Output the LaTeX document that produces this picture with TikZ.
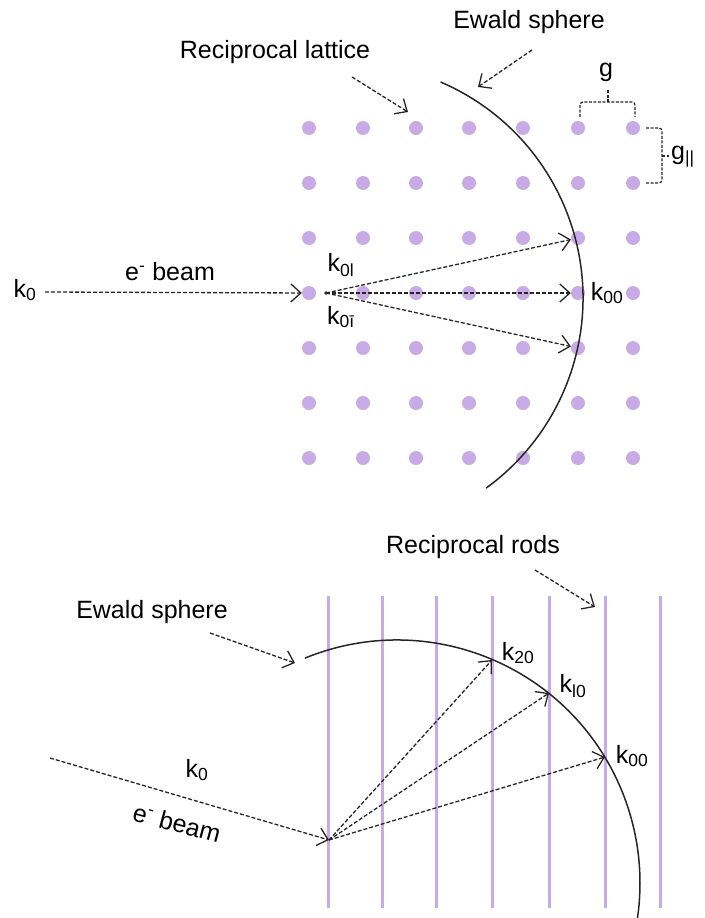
\documentclass[tikz,border=0pt]{standalone}
\usepackage{fontspec}
\setmainfont{Liberation Sans}
\usetikzlibrary{arrows.meta,positioning}
\definecolor{lattice}{RGB}{200,170,228}

\begin{document}
\begin{tikzpicture}[x=1pt,y=-1pt,>={Straight Barb[length=10pt,width=18pt]},
    spot/.style={circle,fill=lattice,minimum size=14pt,inner sep=0pt},
    ray/.style={draw=black!85,line width=1.3pt,dash pattern=on 4pt off 2pt,->},
    brk/.style={draw=black!85,line width=1.2pt,dash pattern=on 3pt off 1.5pt,rounded corners=3pt},
    sph/.style={draw=black!85,line width=1.5pt},
    rod/.style={draw=lattice,line width=3pt},
    lbl/.style={font=\fontsize{25}{30}\selectfont,inner sep=0pt}]
  \useasboundingbox (0,0) rectangle (704,918);
  % TOP: reciprocal lattice cut by the Ewald sphere
  \foreach \i/\x in {1/309,2/363,3/416,4/469,5/523,6/578,7/633}
    \foreach \j in {1,...,7} \node[spot] (D\i\j) at (\x,73+55*\j) {};
  \draw[sph] (348,298) ++(-66.8:235) arc[start angle=-66.8,end angle=54,radius=235];
  \node[lbl] (RL) at (275,52) {Reciprocal lattice};
  \node[lbl] (ES1) at (529,22) {Ewald sphere};
  \coordinate (RLa) at (352,77); \coordinate (RLb) at (408,112);
  \coordinate (ESa) at (532,50); \coordinate (ESb) at (478,87);
  \draw[ray] (RLa) -- (RLb);
  \draw[ray] (ESa) -- (ESb);
  % spacings g and g_||
  \draw[brk] (580,117) |- (635,102) -- (635,117);
  \draw[brk,rounded corners=0pt] (608,102) -- (608,89);
  \node[lbl] (G) at (606,72) {g};
  \draw[brk] (646,128) -| (662,183) -- (646,183);
  \draw[brk,rounded corners=0pt] (662,156) -- (669,156);
  \node[lbl,anchor=west] (GP) at (671,157) {g\textsubscript{||}};
  % incident and diffracted beams
  \coordinate (B0) at (45,292);
  \coordinate (O1) at (326,293);
  \draw[ray] (B0) -- (D14);
  \fill[black!85] (O1) circle (1.8);
  \foreach \j in {3,4,5} \draw[ray] (O1) -- (D6\j);
  \node[lbl] (K0a) at (25,290) {k\textsubscript{0}};
  \node[lbl] (EB1) at (170,272) {e\textsuperscript{-} beam};
  \node[lbl] (K01) at (341,265) {k\textsubscript{0l}};
  \node[lbl] (K01b) at (341,317) {k\textsubscript{0ī}};
  \node[lbl] (K00a) at (607,293) {k\textsubscript{00}};
  % BOTTOM: reciprocal rods cut by the Ewald sphere
  \foreach \i/\x in {1/328,2/382,3/436,4/492,5/549,6/605,7/660}
    \draw[rod] (\x,596) -- (\x,908);
  \draw[sph] (397,883) ++(-112.3:243) arc[start angle=-112.3,end angle=9,radius=243];
  \node[lbl] (RR) at (473,547) {Reciprocal rods};
  \node[lbl] (ES2) at (152,612) {Ewald sphere};
  \coordinate (RRa) at (535,570); \coordinate (RRb) at (595,607);
  \coordinate (ESc) at (210,633); \coordinate (ESd) at (295,663);
  \draw[ray] (RRa) -- (RRb);
  \draw[ray] (ESc) -- (ESd);
  \coordinate (B1) at (50,758);
  \coordinate (O2) at (329,840);
  \coordinate (K20) at (492,660);
  \coordinate (K10) at (549,693);
  \coordinate (K00) at (605,757);
  \draw[ray] (B1) -- (O2);
  \foreach \k in {K20,K10,K00} \draw[ray] (O2) -- (\k);
  \node[lbl] (K0b) at (197,770) {k\textsubscript{0}};
  \node[lbl,rotate=-15] (EB2) at (177,823) {e\textsuperscript{-} beam};
  \node[lbl] (K20l) at (518,653) {k\textsubscript{20}};
  \node[lbl] (K10l) at (573,686) {k\textsubscript{l0}};
  \node[lbl] (K00l) at (632,756) {k\textsubscript{00}};
\end{tikzpicture}
\end{document}
